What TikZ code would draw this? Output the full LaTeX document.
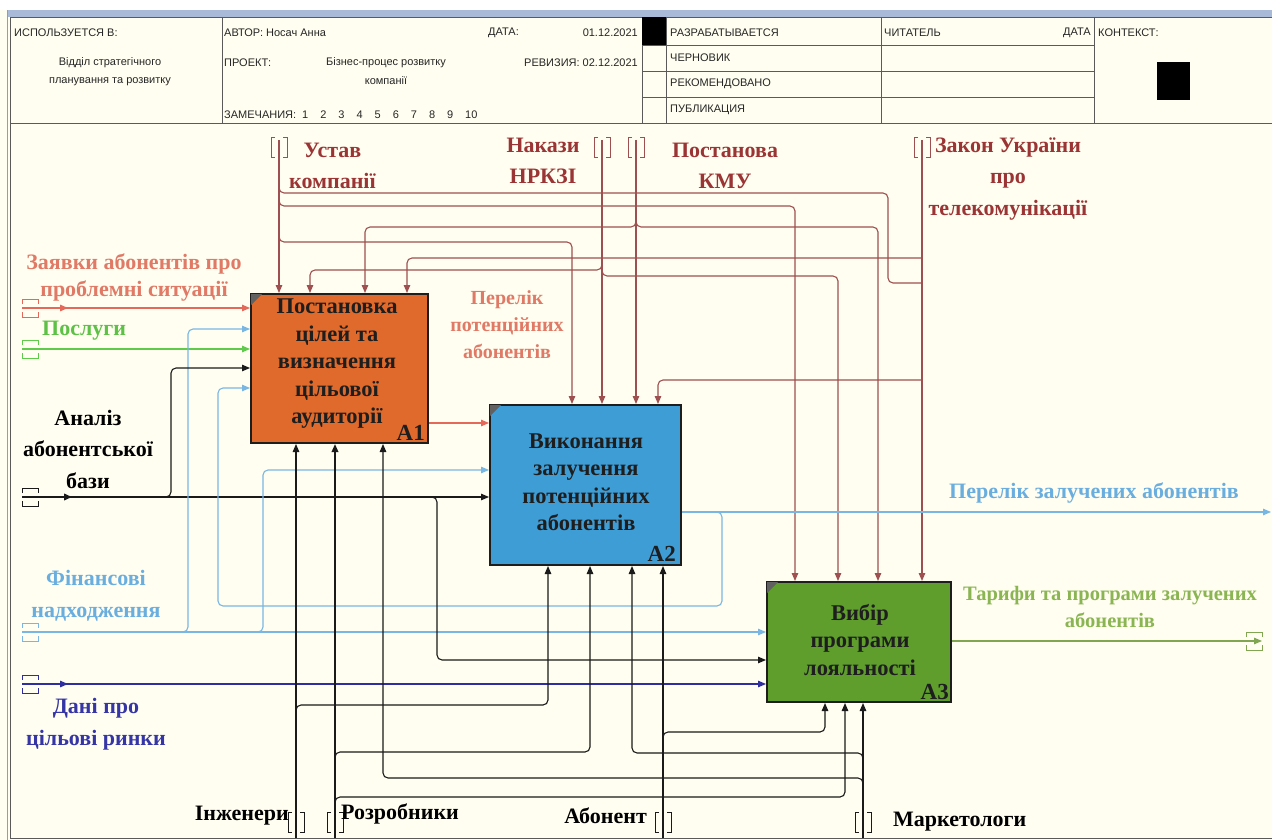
\documentclass[tikz,border=0pt]{standalone}
\usepackage{fontspec}
\setmainfont{Liberation Serif}
\setsansfont{Liberation Sans}
\usetikzlibrary{arrows.meta}
\definecolor{bgc}{HTML}{FFFEF0}
\definecolor{bandc}{HTML}{A9BAD9}
\definecolor{hdrl}{HTML}{5A5A5A}
\definecolor{boxl}{HTML}{1E1E1E}
\definecolor{fillA}{HTML}{DF6A2C}
\definecolor{fillB}{HTML}{3F9DD6}
\definecolor{fillC}{HTML}{5F9E2D}
\definecolor{ctll}{HTML}{9E4F4F}
\definecolor{ctlt}{HTML}{9B3535}
\definecolor{redl}{HTML}{E4695A}
\definecolor{redt}{HTML}{E07A66}
\definecolor{grnl}{HTML}{5FCB4A}
\definecolor{grnt}{HTML}{5DC146}
\definecolor{blul}{HTML}{78B6E4}
\definecolor{blut}{HTML}{6AAEE0}
\definecolor{navl}{HTML}{2E2EA0}
\definecolor{navt}{HTML}{3535A6}
\definecolor{olvl}{HTML}{80A652}
\definecolor{olvt}{HTML}{8AB552}
\definecolor{blkl}{HTML}{1A1A1A}
\newcommand\vtunnel[3]{% x, ytop, colour
  \draw[#3,line width=0.8pt] ({#1-4},#2) -- ({#1-8},#2) -- ({#1-8},{#2+20}) -- ({#1-4},{#2+20});
  \draw[#3,line width=0.8pt] ({#1+4},#2) -- ({#1+8},#2) -- ({#1+8},{#2+20}) -- ({#1+4},{#2+20});}
\newcommand\htunnel[3]{% xleft, y, colour
  \draw[#3,line width=0.8pt] (#1,{#2-4}) -- (#1,{#2-9}) -- ({#1+16},{#2-9}) -- ({#1+16},{#2-4});
  \draw[#3,line width=0.8pt] (#1,{#2+4}) -- (#1,{#2+9}) -- ({#1+16},{#2+9}) -- ({#1+16},{#2+4});}
\begin{document}
\begin{tikzpicture}[x=1pt,y=-1pt,
  ln/.style={line width=1.1pt, rounded corners=5pt},
  arr/.style={-{Triangle[length=8pt,width=6.5pt]}},
  ctl/.style={ln, ctll},
  box/.style={draw=boxl, line width=2pt, inner sep=0pt},
  btxt/.style={font=\bfseries\fontsize{22.5}{27.5}\selectfont, align=center, inner sep=0pt, text=boxl},
  bid/.style={font=\bfseries\fontsize{23}{24}\selectfont, inner sep=0pt, text=boxl},
  elbl/.style={font=\bfseries\fontsize{22}{31.5}\selectfont, align=center, inner sep=0pt},
  elbs/.style={font=\bfseries\fontsize{22}{27}\selectfont, align=center, inner sep=0pt},
  htx/.style={font=\sffamily\fontsize{11}{13}\selectfont, inner sep=0pt, text=black!85},
  hdr/.style={hdrl, line width=0.9pt}]
\useasboundingbox (0,0) rectangle (1272,840);
\fill[bgc] (0,0) rectangle (1272,840);
\fill[white] (0,0) rectangle (1272,10);
\fill[bandc] (8,10) rectangle (1272,17);
% frame
\draw[hdr] (10,17) -- (10,838) -- (1272,838);
\draw[hdrl!60, line width=0.8pt] (7,10) -- (7,840);
\draw[hdr] (10,17) -- (1272,17);
\draw[hdr] (10,123) -- (1272,123);
\draw[hdr] (222,17) -- (222,123);
\draw[hdr] (642,17) -- (642,123);
\draw[hdr] (666,17) -- (666,123);
\draw[hdr] (881,17) -- (881,123);
\draw[hdr] (1094,17) -- (1094,123);
\draw[hdr] (642,45) -- (1094,45);
\draw[hdr] (642,71) -- (1094,71);
\draw[hdr] (642,97) -- (1094,97);
\fill[black] (642,17) rectangle (666,45);
\fill[black] (1157,62) rectangle (1190,100);
% header texts
\node[htx, anchor=west] (h1) at (14,33) {ИСПОЛЬЗУЕТСЯ В:};
\node[htx] (h2) at (110,63) {Відділ стратегічного};
\node[htx] (h3) at (110,82) {планування та розвитку};
\node[htx, anchor=west] (h4) at (224,33) {АВТОР: Носач Анна};
\node[htx, anchor=west] (h5) at (488,33) {ДАТА:};
\node[htx, anchor=east] (h6) at (638,33) {01.12.2021};
\node[htx, anchor=west] (h7) at (224,63) {ПРОЕКТ:};
\node[htx] (h8) at (386,63) {Бізнес-процес розвитку};
\node[htx] (h9) at (386,81) {компанії};
\node[htx, anchor=east] (h10) at (638,63) {РЕВИЗИЯ: 02.12.2021};
\node[htx, anchor=west] (h11) at (224,115) {ЗАМЕЧАНИЯ:\hspace{6pt}1\hspace{12pt}2\hspace{12pt}3\hspace{12pt}4\hspace{12pt}5\hspace{12pt}6\hspace{12pt}7\hspace{12pt}8\hspace{12pt}9\hspace{12pt}10};
\node[htx, anchor=west] (h12) at (670,33) {РАЗРАБАТЫВАЕТСЯ};
\node[htx, anchor=west] (h13) at (670,58) {ЧЕРНОВИК};
\node[htx, anchor=west] (h14) at (670,84) {РЕКОМЕНДОВАНО};
\node[htx, anchor=west] (h15) at (670,110) {ПУБЛИКАЦИЯ};
\node[htx, anchor=west] (h16) at (884,33) {ЧИТАТЕЛЬ};
\node[htx, anchor=east] (h17) at (1091,33) {ДАТА};
\node[htx, anchor=west] (h18) at (1098,33) {КОНТЕКСТ:};
% boxes
\node[box, fill=fillA, minimum width=177pt, minimum height=149pt] (A1) at (339.5,368.5) {};
\node[box, fill=fillB, minimum width=191pt, minimum height=160pt] (A2) at (585.5,485) {};
\node[box, fill=fillC, minimum width=184pt, minimum height=120pt] (A3) at (859,642) {};
\foreach \b in {A1,A2,A3}{
  \fill[boxl!70] ([shift={(1,1)}]\b.north west) -- ([shift={(12,1)}]\b.north west) -- ([shift={(1,12)}]\b.north west) -- cycle;}
\node[btxt] (t1) at (337,364) {Постановка\\цілей та\\визначення\\цільової\\аудиторії};
\node[bid, anchor=south east] (n1) at ([shift={(-4,-3)}]A1.south east) {A1};
\node[btxt] (t2) at (586,482) {Виконання\\залучення\\потенційних\\абонентів};
\node[bid, anchor=south east] (n2) at ([shift={(-6,-4)}]A2.south east) {A2};
\node[btxt] (t3) at (860,640) {Вибір\\програми\\лояльності};
\node[bid, anchor=south east] (n3) at ([shift={(-3,-3)}]A3.south east) {A3};
% named coordinates
\coordinate (cU) at (279,140);
\coordinate (cN) at (602,140);
\coordinate (cP) at (636,140);
\coordinate (cZ) at (922,140);
\coordinate (i2) at (310,0); \coordinate (i3) at (365,0); \coordinate (i4) at (407,0);
\coordinate (j1) at (572,0); \coordinate (j4) at (658,0);
\coordinate (k1) at (795,0); \coordinate (k2) at (838,0); \coordinate (k3) at (878,0);
\coordinate (x548) at (548,0); \coordinate (x590) at (590,0); \coordinate (x632) at (632,0);
\coordinate (x383) at (383,0); \coordinate (x825) at (825,0); \coordinate (x845) at (845,0);
\coordinate (y329) at (0,329); \coordinate (y368) at (0,368); \coordinate (y388) at (0,388);
\coordinate (y423) at (0,423); \coordinate (y470) at (0,470); \coordinate (y512) at (0,512);
\coordinate (y641) at (0,641); \coordinate (y660) at (0,660);
\coordinate (tZ) at (22,308);
\coordinate (tPo) at (22,349);
\coordinate (tA) at (22,497);
\coordinate (tF) at (22,632);
\coordinate (tD) at (22,684);
\coordinate (oL) at (1271,512);
\coordinate (oT) at (1262,641);
\coordinate (mI) at (296,838);
\coordinate (mR) at (335,838);
\coordinate (mAb) at (663,838);
\coordinate (mM) at (863,838);
% controls
\draw[ctl,arr] (cU) -- (cU |- A1.north);
\draw[ctl] (279,185) -- (279,193) -- (888,193) -- (888,283) -- (922,283);
\draw[ctl,arr] (279,198) -- (279,206) -- (795,206) -- (k1 |- A3.north);
\draw[ctl,arr] (279,234) -- (279,242) -- (572,242) -- (j1 |- A2.north);
\draw[ctl,arr] (cN) -- (cN |- A2.north);
\draw[ctl,arr] (602,262) -- (602,270) -- (310,270) -- (i2 |- A1.north);
\draw[ctl,arr] (602,268) -- (602,276) -- (838,276) -- (k2 |- A3.north);
\draw[ctl,arr] (cP) -- (cP |- A2.north);
\draw[ctl,arr] (636,219) -- (636,227) -- (365,227) -- (i3 |- A1.north);
\draw[ctl,arr] (636,219) -- (636,227) -- (878,227) -- (k3 |- A3.north);
\draw[ctl,arr] (cZ) -- (cZ |- A3.north);
\draw[ctl,arr] (922,258) -- (407,258) -- (i4 |- A1.north);
\draw[ctl,arr] (922,380) -- (658,380) -- (j4 |- A2.north);
\vtunnel{279}{137}{ctll}
\vtunnel{602}{137}{ctll}
\vtunnel{636}{137}{ctll}
\vtunnel{922}{137}{ctll}
% inputs
\draw[ln,redl,arr] (tZ) -- (A1.west |- tZ);
\draw[ln,grnl,arr] (tPo) -- (A1.west |- tPo);
\draw[ln,blkl,arr] (tA) -- (A2.west |- tA);
\draw[ln,blul,arr] (tF) -- (A3.west |- tF);
\draw[ln,navl,arr] (tD) -- (A3.west |- tD);
\draw[ln,blul,arr] (180,632) -- (188,632) -- (188,329) -- (A1.west |- y329);
\draw[ln,blkl,arr] (163,497) -- (171,497) -- (171,368) -- (A1.west |- y368);
\draw[ln,blul,arr] (715,512) -- (722,512) -- (722,606) -- (218,606) -- (218,388) -- (A1.west |- y388);
\draw[ln,blul,arr] (255,632) -- (263,632) -- (263,470) -- (A2.west |- y470);
\draw[ln,blkl,arr] (429,497) -- (437,497) -- (437,660) -- (A3.west |- y660);
\draw[ln,redl,arr] (A1.east |- y423) -- (A2.west |- y423);
\draw[redl,line width=1.4pt,arr] (tZ) -- ++(46,0);
\draw[blkl,line width=2pt,arr] (tA) -- ++(50,0);
\draw[navl,line width=1.4pt,arr] (tD) -- ++(46,0);
\htunnel{22}{308}{redl}
\htunnel{22}{349}{grnl}
\htunnel{22}{497}{blkl}
\htunnel{22}{632}{blul}
\htunnel{22}{684}{navl}
% outputs
\draw[ln,blul,arr] (A2.east |- y512) -- (oL);
\draw[ln,olvl,arr] (A3.east |- y641) -- (oT);
\htunnel{1246}{641}{olvl}
% mechanisms
\draw[ln,blkl,arr] (mI) -- (mI |- A1.south);
\draw[ln,blkl,arr] (296,713) -- (296,705) -- (548,705) -- (x548 |- A2.south);
\draw[ln,blkl,arr,line width=1.8pt] (mR) -- (mR |- A1.south);
\draw[ln,blkl,arr] (335,760) -- (335,752) -- (590,752) -- (x590 |- A2.south);
\draw[ln,blkl,arr] (335,805) -- (335,797) -- (845,797) -- (x845 |- A3.south);
\draw[ln,blkl,arr] (mAb) -- (mAb |- A2.south);
\draw[ln,blkl,arr] (663,740) -- (663,732) -- (825,732) -- (x825 |- A3.south);
\draw[ln,blkl,arr] (mM) -- (mM |- A3.south);
\draw[ln,blkl,arr] (863,761) -- (863,753) -- (632,753) -- (x632 |- A2.south);
\draw[ln,blkl,arr] (863,786) -- (863,778) -- (383,778) -- (x383 |- A1.south);
\vtunnel{296}{812}{blkl}
\vtunnel{335}{812}{blkl}
\vtunnel{663}{812}{blkl}
\vtunnel{863}{812}{blkl}
% control labels
\node[elbl, text=ctlt, anchor=west] (lU) at (289,166) {Устав\\компанії};
\node[elbl, text=ctlt] (lN) at (543,161) {Накази\\НРКЗІ};
\node[elbl, text=ctlt] (lP) at (725,166) {Постанова\\КМУ};
\node[elbl, text=ctlt] (lZa) at (1008,179) {Закон України\\про\\телекомунікації};
% input labels
\node[elbs, text=redt] (lZy) at (134,277) {Заявки абонентів про\\проблемні ситуації};
\node[elbl, text=grnt, anchor=west] (lPo) at (42,331) {Послуги};
\node[elbl, text=black] (lAn) at (88,449) {Аналіз\\абонентської\\бази};
\node[elbl, text=blut] (lF) at (96,596) {Фінансові\\надходження};
\node[elbl, text=navt] (lD) at (96,724) {Дані про\\цільові ринки};
% output labels
\node[elbs, text=redt, font=\bfseries\fontsize{20}{27}\selectfont] (lPp) at (507,325) {Перелік\\потенційних\\абонентів};
\node[elbl, text=blut] (lPz) at (1094,493) {Перелік залучених абонентів};
\node[elbs, text=olvt, font=\bfseries\fontsize{20.5}{27}\selectfont] (lT) at (1110,607) {Тарифи та програми залучених\\абонентів};
% mechanism labels
\node[elbl, text=black, anchor=east] (lI) at (289,816) {Інженери};
\node[elbl, text=black, anchor=west] (lR) at (341,814) {Розробники};
\node[elbl, text=black, anchor=east] (lAb) at (647,816) {Абонент};
\node[elbl, text=black, anchor=west] (lM) at (893,822) {Маркетологи};
\end{tikzpicture}
\end{document}
